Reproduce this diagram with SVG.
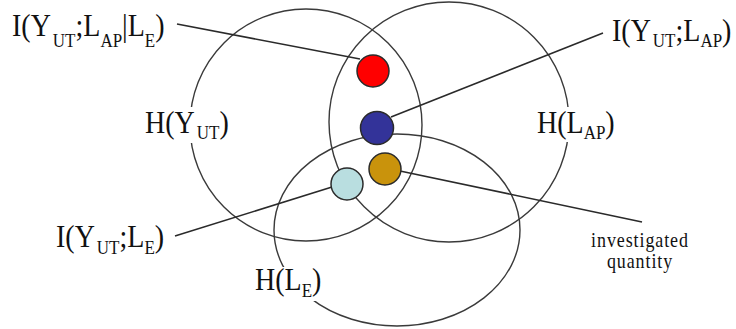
<svg xmlns="http://www.w3.org/2000/svg" width="736" height="329" viewBox="0 0 736 329">
<style>
.set{fill:none;stroke:#3a3a3a;stroke-width:1.4}
.ln{fill:none;stroke:#2a2a2a;stroke-width:1.6}
.dot{stroke:#2b2b2b;stroke-width:1.5}
.t{font-family:"Liberation Serif","Times New Roman",serif;font-size:28px;fill:#111}
.s{font-size:17px}
.bg{fill:#fff}
.q{font-family:"Liberation Serif","Times New Roman",serif;font-size:18px;fill:#111;letter-spacing:0.9px}
</style>
<rect width="736" height="329" fill="#fff"/>
<g id="sets">
<g id="H_YUT"><circle class="set" cx="306" cy="125" r="116"/></g>
<g id="H_LAP"><circle class="set" cx="449" cy="122" r="120"/></g>
<g id="H_LE"><ellipse class="set" cx="397" cy="230" rx="123" ry="96"/></g>
</g>
<g id="connectors">
<line class="ln" x1="177" y1="24" x2="360" y2="59"/>
<line class="ln" x1="603" y1="33" x2="391" y2="117"/>
<line class="ln" x1="175" y1="236" x2="332" y2="187"/>
<line class="ln" x1="400" y1="171" x2="642" y2="222"/>
</g>
<g id="dot_red"><circle class="dot" cx="373" cy="71" r="16" fill="#ff0000"/></g>
<g id="dot_blue"><circle class="dot" cx="377" cy="128" r="16.5" fill="#333399"/></g>
<g id="dot_gold"><circle class="dot" cx="385" cy="169" r="16" fill="#c9930c"/></g>
<g id="dot_light"><circle class="dot" cx="347" cy="184" r="16" fill="#b9dee0"/></g>
<g id="label_I_YUT_LAP_LE">
<text class="t" transform="translate(12,36) scale(1,1.13)" x="0" y="0">I(Y<tspan class="s" dx="2" dy="10">UT</tspan><tspan dy="-10">;L</tspan><tspan class="s" dy="10">AP</tspan><tspan dy="-10">|L</tspan><tspan class="s" dy="10">E</tspan><tspan dy="-10">)</tspan></text>
</g>
<g id="label_I_YUT_LAP">
<text class="t" transform="translate(612,41) scale(1,1.13)" x="0" y="0">I(Y<tspan class="s" dx="2" dy="5">UT</tspan><tspan dy="-5">;L</tspan><tspan class="s" dy="5">AP</tspan><tspan dy="-5">)</tspan></text>
</g>
<g id="label_H_YUT">
<rect class="bg" x="143" y="107" width="87" height="36"/>
<text class="t" transform="translate(145,133) scale(1,1.13)" x="0" y="0">H(Y<tspan class="s" dx="2" dy="5">UT</tspan><tspan dy="-5">)</tspan></text>
</g>
<g id="label_H_LAP">
<rect class="bg" x="535" y="107" width="81" height="35"/>
<text class="t" transform="translate(537,133) scale(1,1.13)" x="0" y="0">H(L<tspan class="s" dy="5">AP</tspan><tspan dy="-5">)</tspan></text>
</g>
<g id="label_I_YUT_LE">
<text class="t" transform="translate(56,247) scale(1,1.13)" x="0" y="0">I(Y<tspan class="s" dx="2" dy="6">UT</tspan><tspan dy="-6">;L</tspan><tspan class="s" dy="6">E</tspan><tspan dy="-6">)</tspan></text>
</g>
<g id="label_H_LE">
<rect class="bg" x="253" y="267" width="70" height="34"/>
<text class="t" transform="translate(255,290) scale(1,1.13)" x="0" y="0">H(L<tspan class="s" dy="6">E</tspan><tspan dy="-6">)</tspan></text>
</g>
<g id="label_investigated">
<text class="q" transform="translate(640,247) scale(1,1.12)" x="0" y="0" text-anchor="middle">investigated</text>
<text class="q" transform="translate(640,268) scale(1,1.12)" x="0" y="0" text-anchor="middle">quantity</text>
</g>
</svg>
